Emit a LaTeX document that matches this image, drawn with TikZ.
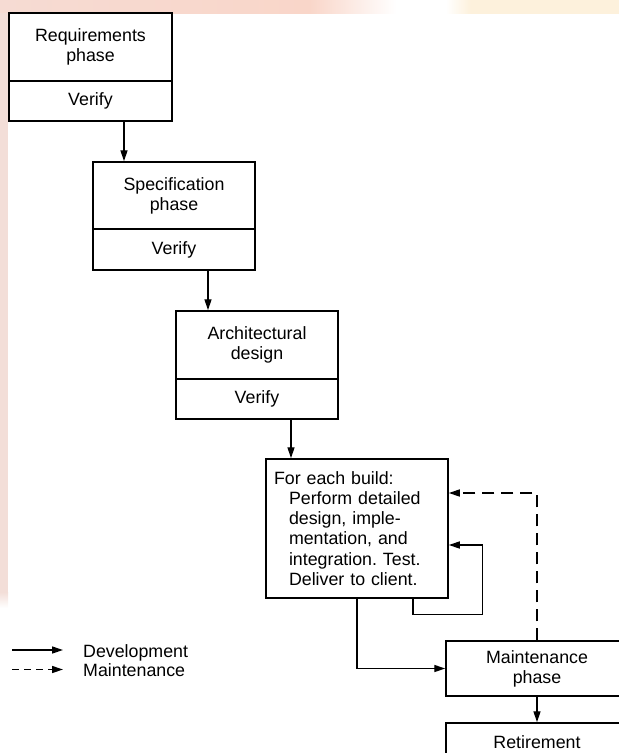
\documentclass[tikz,border=0pt]{standalone}
\usepackage{fontspec}
\setmainfont{Liberation Sans}
\usetikzlibrary{arrows.meta}
\definecolor{bandpink}{HTML}{F6DBD3}
\definecolor{bandsalmon}{HTML}{F9D6C9}
\definecolor{bandyellow}{HTML}{FDF1DC}
\definecolor{leftpink}{HTML}{F3DED8}
\pgfdeclarehorizontalshading{topband}{100bp}{color(0bp)=(bandpink); color(25bp)=(bandpink);
  color(50bp)=(bandsalmon); color(57bp)=(white); color(61bp)=(white);
  color(63bp)=(bandyellow); color(75bp)=(bandyellow); color(100bp)=(bandyellow)}
\frenchspacing

\begin{document}
\begin{tikzpicture}[x=1pt,y=-1pt,
  font=\fontsize{17.8}{20.2}\selectfont,
  phase/.style={draw, line width=1.5pt, align=center, inner sep=0pt, fill=white},
  devflow/.style={line width=1.4pt, -{Triangle[length=11pt,width=7pt]}},
  maintflow/.style={devflow, dash pattern=on 12pt off 7pt}]
\useasboundingbox (0,0) rectangle (619,753);
% slide background
\shade[shading=topband] (0,0) rectangle (619,13);
\fill[leftpink] (0,13) rectangle (8,592);
\shade[top color=leftpink, bottom color=white] (0,592) rectangle (8,608);

% phases
\node[phase, minimum width=163, minimum height=68] (req) at (90.5,47) {Requirements\\phase};
\node[phase, minimum width=163, minimum height=40] (reqv) at (90.5,101) {Verify};
\node[phase, minimum width=162, minimum height=67] (spec) at (174,195.5) {Specification\\phase};
\node[phase, minimum width=162, minimum height=41] (specv) at (174,249.5) {Verify};
\node[phase, minimum width=162, minimum height=68] (arch) at (257,345) {Architectural\\design};
\node[phase, minimum width=162, minimum height=40] (archv) at (257,399) {Verify};
\node[phase, minimum width=182, minimum height=139, align=left, text width=166,
  inner xsep=8pt] (build) at (357,528.5)
  {For each build:\\\hspace*{15pt}Perform detailed\\\hspace*{15pt}design, imple-\\
   \hspace*{15pt}mentation, and\\\hspace*{15pt}integration. Test.\\\hspace*{15pt}Deliver to client.};
\node[phase, minimum width=182, minimum height=55] (maint) at (537,668.5) {Maintenance\\phase};
\node[phase, minimum width=182, minimum height=38] (ret) at (537,742) {Retirement};

% development
\draw[devflow] ([xshift=33.5]reqv.south) coordinate (r1) -- (r1 |- spec.north);
\draw[devflow] ([xshift=34]specv.south) coordinate (s1) -- (s1 |- arch.north);
\draw[devflow] ([xshift=34]archv.south) coordinate (a1) -- (a1 |- build.north);
\draw[devflow] (build.south) |- (maint.west);
\draw[devflow] ([xshift=56]build.south) -- ++(0,16)
  -| ([xshift=34,yshift=-16.5]build.east) -- ([yshift=-16.5]build.east);
\draw[devflow] (maint.south) -- (ret.north);
% maintenance
\draw[maintflow] (maint.north) |- ([yshift=35.5]build.east);

% legend
\coordinate (devs) at (12,650);
\coordinate (deve) at (63,650);
\coordinate (mnts) at (12,669.5);
\coordinate (mnte) at (63,669.5);
\draw[devflow] (devs) -- (deve);
\draw[devflow, dash pattern=on 7pt off 5pt] (mnts) -- (mnte);
\node[anchor=base west, inner sep=0pt] (devlbl) at (83,657.5) {Development};
\node[anchor=base west, inner sep=0pt] (mntlbl) at (83,676.5) {Maintenance};
\end{tikzpicture}
\end{document}
